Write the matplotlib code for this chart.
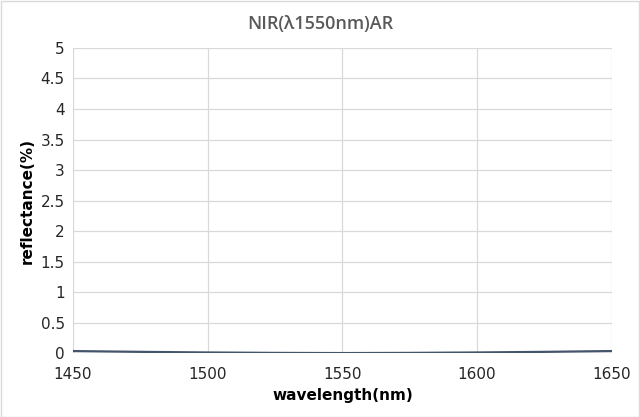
import matplotlib.pyplot as plt

# Datos
wavelength = [1450, 1475, 1500, 1525, 1550, 1575, 1600, 1625, 1650]
reflectance = [0.035, 0.022, 0.012, 0.005, 0.002, 0.005, 0.012, 0.022, 0.035]

x_ticks = [1450, 1500, 1550, 1600, 1650]
y_ticks = [0, 0.5, 1, 1.5, 2, 2.5, 3, 3.5, 4, 4.5, 5]
y_labels = ['0', '0.5', '1', '1.5', '2', '2.5', '3', '3.5', '4', '4.5', '5']

fig = plt.figure(figsize=(6.4, 4.17), dpi=100)
ax = fig.add_axes([0.114, 0.153, 0.842, 0.732])

ax.plot(wavelength, reflectance, color='#44546a', linewidth=1.6)

ax.set_xlim(1450, 1650)
ax.set_ylim(0, 5)
ax.set_xticks(x_ticks)
ax.set_yticks(y_ticks)
ax.set_yticklabels(y_labels)
ax.grid(True, color='#d9d9d9', linewidth=0.9)
ax.set_axisbelow(True)
for s in ax.spines.values():
    s.set_visible(False)
ax.tick_params(length=0, labelsize=11, colors='#262626', pad=6)
ax.tick_params(axis='x', pad=10)

ax.set_xlabel('wavelength(nm)', fontsize=11, fontweight='bold', labelpad=4)
ax.set_ylabel('reflectance(%)', fontsize=11, fontweight='bold', labelpad=4)
fig.suptitle('NIR(λ1550nm)AR', fontsize=13, color='#595959', y=0.965,
             family='Open Sans', fontweight='semibold')

# borde exterior
fig.patches.append(plt.Rectangle((0.001, 0.001), 0.998, 0.997, transform=fig.transFigure,
                                 fill=False, edgecolor='#d9d9d9', linewidth=1))

fig.savefig('out.png', dpi=100)
